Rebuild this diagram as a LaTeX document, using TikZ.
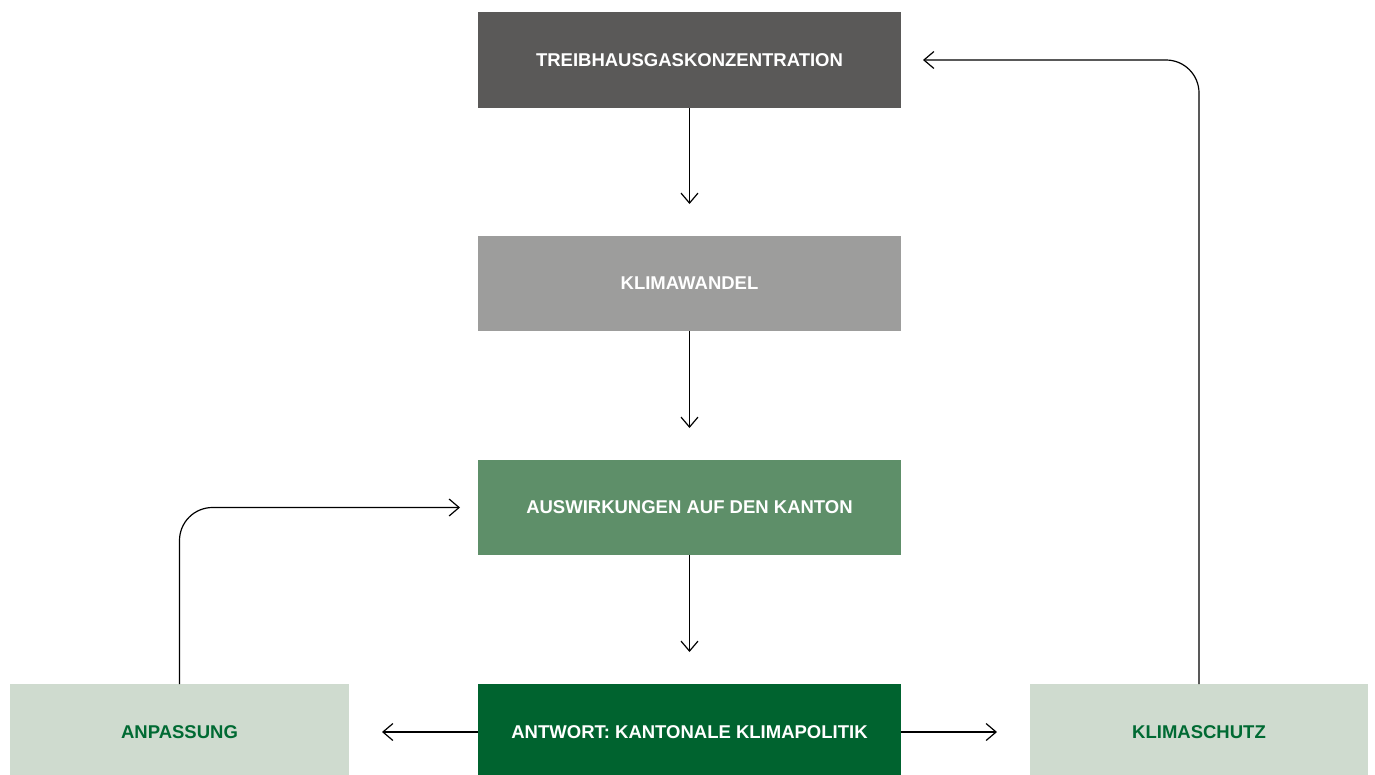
\documentclass[tikz,border=0pt]{standalone}
\usepackage{fontspec}
\setmainfont{Liberation Sans}
\usetikzlibrary{arrows.meta}
\definecolor{cdark}{HTML}{5A5958}
\definecolor{cgray}{HTML}{9D9D9C}
\definecolor{cmid}{HTML}{5E8F69}
\definecolor{cdeep}{HTML}{00632F}
\definecolor{clight}{HTML}{CFDBCF}
\definecolor{ctext}{HTML}{006A33}
\tikzset{
  box/.style={rectangle, inner sep=0pt, outer sep=0pt, draw=none,
    font=\fontsize{18.5}{21}\selectfont\bfseries, text=white},
  flow/.style={line width=1.2pt, -{Straight Barb[length=10pt,width=17pt,line width=1.2pt]}},
}
\begin{document}
\begin{tikzpicture}[x=1pt,y=-1pt]
\path[use as bounding box] (0,0) rectangle (1375,774);
\node[box, fill=cdark, minimum width=423pt, minimum height=96pt] (t) at (689.5,60) {TREIBHAUSGASKONZENTRATION};
\node[box, fill=cgray, minimum width=423pt, minimum height=95pt] (k) at (689.5,283.5) {KLIMAWANDEL};
\node[box, fill=cmid, minimum width=423pt, minimum height=95pt] (a) at (689.5,507.5) {AUSWIRKUNGEN AUF DEN KANTON};
\node[box, fill=cdeep, minimum width=423pt, minimum height=96pt] (r) at (689.5,732) {ANTWORT: KANTONALE KLIMAPOLITIK};
\node[box, fill=clight, text=ctext, minimum width=339pt, minimum height=96pt] (p) at (179.5,732) {ANPASSUNG};
\node[box, fill=clight, text=ctext, minimum width=338pt, minimum height=96pt] (s) at (1199,732) {KLIMASCHUTZ};
\draw[flow, shorten >=32pt] (t) -- (k);
\draw[flow, shorten >=32pt] (k) -- (a);
\draw[flow, shorten >=32pt] (a) -- (r);
\draw[flow, shorten >=33pt] (r) -- (p);
\draw[flow, shorten >=33pt] (r) -- (s);
\draw[flow, rounded corners=33pt, shorten >=18pt] (p.north) |- (a.west);
\draw[flow, rounded corners=33pt, shorten >=22pt] (s.north) |- (t.east);
\end{tikzpicture}
\end{document}
